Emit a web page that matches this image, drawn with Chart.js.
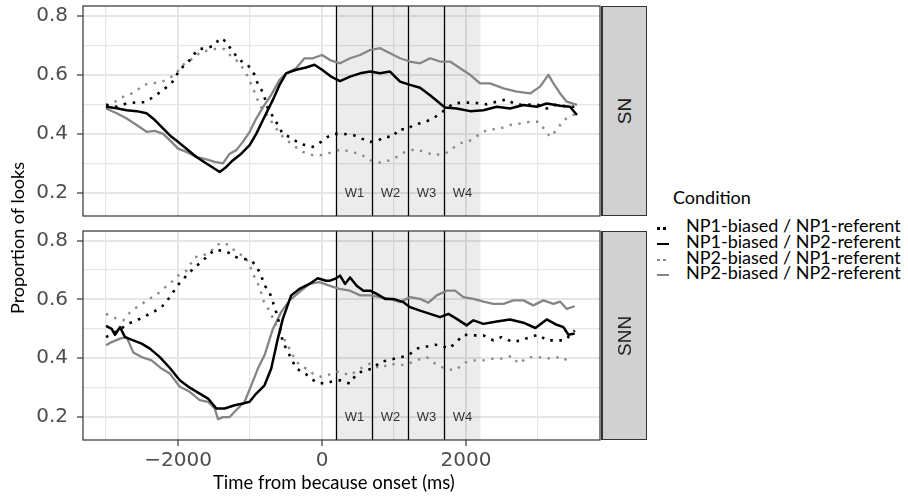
<!DOCTYPE html>
<html>
<head>
<meta charset="utf-8">
<script src="https://cdn.jsdelivr.net/npm/chart.js"></script>
<style>
  body { margin: 0; background: #fff; width: 908px; height: 496px; overflow: hidden; position: relative; font-family: Lato, sans-serif; }
  canvas { position: absolute; left: 0; }
  .strip { position: absolute; left: 601px; width: 46px; box-sizing: border-box; background: #d1d1d1; border: 1px solid #333; border-left-width: 2px; }
  .strip span { position: absolute; left: 50%; top: 50%; transform: translate(-50%, -50%) rotate(-90deg); font: 19px "Liberation Sans", sans-serif; color: #1a1a1a; white-space: nowrap; }
  .txt { position: absolute; white-space: nowrap; color: #000; font-size: 18px; line-height: 16px; }
  .key { position: absolute; }
</style>
</head>
<body>
<canvas id="snChart" width="602" height="217" style="top:0"></canvas>
<canvas id="snnChart" width="602" height="271" style="top:225px"></canvas>
<div class="strip" style="top:6px;height:210px"><span id="strip0"></span></div>
<div class="strip" style="top:231px;height:209px"><span id="strip1"></span></div>
<div class="txt" style="left:17px;top:238px;transform:translate(-50%,-50%) rotate(-90deg)">Proportion of looks</div>
<div class="txt" style="left:213px;top:474px;font-size:18.5px">Time from because onset (ms)</div>
<div id="legend"></div>
<script>
// facets and conditions
const panels = ['SN', 'SNN'];
const conditions = [
  'NP1-biased / NP1-referent',
  'NP1-biased / NP2-referent',
  'NP2-biased / NP1-referent',
  'NP2-biased / NP2-referent'
];

// axis ticks
const xMajor = [-2000, 0, 2000];
const xMinor = [-3000, -1000, 1000, 3000];
const yMajor = [0.2, 0.4, 0.6, 0.8];
const yMinor = [0.3, 0.5, 0.7];

// analysis windows
const windowEdges = [200, 700, 1200, 1700, 2200];
const windowLabels = ['W1', 'W2', 'W3', 'W4'];
const windowLabelLevel = 0.2;

// SN panel: [time, proportion]
const snNP1NP1 = [[-3000,.498],[-2852,.492],[-2714,.503],[-2575,.507],[-2460,.507],[-2299,.532],[-2091,.571],[-1976,.617],[-1837,.65],[-1722,.687],[-1606,.69],[-1491,.70],[-1422,.724],[-1330,.713],[-1260,.684],[-1145,.65],[-1030,.633],[-937,.60],[-891,.568],[-822,.541],[-752,.486],[-660,.45],[-545,.40],[-429,.387],[-314,.367],[-129,.356],[-14,.373],[78,.39],[170,.40],[296,.40],[435,.396],[551,.384],[667,.373],[759,.375],[870,.39],[986,.39],[1060,.416],[1176,.415],[1269,.43],[1407,.439],[1523,.449],[1639,.469],[1824,.503],[1963,.506],[2102,.506],[2287,.50],[2426,.509],[2565,.517],[2681,.50],[2819,.498],[2981,.50],[3120,.486],[3259,.50],[3398,.492],[3540,.492]];
const snNP1NP2 = [[-3000,.492],[-2852,.487],[-2714,.48],[-2575,.477],[-2437,.47],[-2322,.447],[-2206,.418],[-2091,.39],[-2000,.373],[-1883,.35],[-1745,.322],[-1606,.30],[-1491,.282],[-1422,.271],[-1330,.288],[-1237,.311],[-1122,.333],[-1006,.362],[-914,.40],[-799,.458],[-683,.515],[-590,.566],[-499,.605],[-360,.617],[-222,.625],[-106,.634],[0,.617],[124,.594],[250,.579],[389,.594],[528,.605],[667,.611],[806,.605],[944,.611],[1083,.577],[1222,.566],[1361,.556],[1500,.531],[1639,.503],[1708,.489],[1870,.486],[2056,.477],[2241,.48],[2426,.492],[2611,.486],[2796,.498],[2981,.492],[3120,.503],[3306,.495],[3444,.492],[3540,.464]];
const snNP2NP1 = [[-3000,.498],[-2875,.509],[-2760,.526],[-2598,.541],[-2483,.566],[-2368,.571],[-2252,.575],[-2160,.583],[-2045,.60],[-1929,.634],[-1791,.656],[-1676,.679],[-1537,.684],[-1445,.69],[-1353,.687],[-1260,.662],[-1145,.64],[-1030,.594],[-937,.541],[-868,.498],[-730,.452],[-637,.418],[-545,.39],[-406,.362],[-268,.339],[-129,.328],[9,.328],[148,.339],[273,.348],[389,.339],[528,.333],[667,.311],[806,.303],[944,.311],[1037,.322],[1153,.339],[1292,.348],[1431,.339],[1546,.328],[1708,.333],[1843,.356],[1963,.373],[2079,.379],[2171,.396],[2287,.413],[2472,.418],[2611,.43],[2750,.435],[2889,.441],[3005,.441],[3097,.413],[3167,.39],[3259,.413],[3352,.447],[3444,.458],[3530,.469]];
const snNP2NP2 = [[-3000,.486],[-2852,.47],[-2714,.452],[-2575,.43],[-2437,.407],[-2322,.41],[-2206,.40],[-2091,.373],[-2000,.35],[-1883,.339],[-1745,.322],[-1606,.314],[-1491,.305],[-1376,.30],[-1283,.333],[-1191,.345],[-1099,.373],[-1006,.407],[-914,.452],[-799,.498],[-706,.532],[-590,.583],[-499,.605],[-360,.622],[-245,.656],[-129,.656],[0,.667],[111,.65],[250,.639],[389,.656],[528,.667],[667,.684],[806,.69],[944,.673],[1083,.656],[1222,.645],[1361,.639],[1500,.656],[1639,.645],[1778,.645],[1917,.622],[2056,.60],[2194,.571],[2333,.571],[2519,.554],[2704,.543],[2889,.537],[3028,.56],[3144,.60],[3213,.571],[3306,.537],[3398,.509],[3540,.498]];

// SNN panel: [time, proportion]
const snnNP1NP1 = [[-3000,.472],[-2875,.489],[-2760,.506],[-2668,.52],[-2575,.529],[-2460,.543],[-2345,.557],[-2229,.574],[-2114,.608],[-2000,.65],[-1883,.681],[-1768,.71],[-1676,.727],[-1583,.75],[-1491,.769],[-1399,.766],[-1307,.76],[-1191,.744],[-1076,.738],[-983,.732],[-914,.715],[-845,.681],[-799,.648],[-730,.625],[-683,.591],[-614,.54],[-545,.455],[-429,.40],[-360,.365],[-268,.354],[-175,.337],[-83,.318],[32,.314],[124,.32],[250,.325],[389,.314],[481,.348],[597,.359],[713,.365],[806,.388],[921,.393],[1014,.399],[1106,.404],[1199,.41],[1315,.433],[1431,.439],[1569,.446],[1662,.444],[1755,.433],[1847,.45],[1963,.48],[2102,.478],[2241,.478],[2380,.461],[2491,.472],[2657,.455],[2750,.461],[2889,.472],[3005,.48],[3120,.461],[3259,.461],[3375,.461],[3509,.495]];
const snnNP1NP2 = [[-3000,.51],[-2922,.50],[-2875,.48],[-2806,.506],[-2737,.472],[-2622,.461],[-2506,.45],[-2391,.433],[-2252,.404],[-2114,.367],[-1976,.325],[-1837,.30],[-1699,.28],[-1583,.263],[-1468,.229],[-1353,.229],[-1214,.24],[-1099,.246],[-1006,.252],[-914,.28],[-799,.308],[-706,.365],[-614,.467],[-545,.534],[-429,.614],[-314,.636],[-175,.653],[-60,.672],[55,.664],[111,.664],[194,.672],[250,.681],[319,.653],[389,.675],[481,.647],[574,.63],[667,.63],[759,.619],[875,.602],[991,.602],[1130,.591],[1222,.574],[1361,.562],[1500,.551],[1639,.54],[1755,.551],[1870,.534],[2009,.512],[2102,.529],[2241,.517],[2426,.525],[2611,.532],[2796,.521],[2963,.503],[3120,.532],[3259,.514],[3352,.506],[3421,.48],[3509,.484]];
const snnNP2NP1 = [[-3000,.551],[-2875,.537],[-2760,.529],[-2645,.563],[-2529,.58],[-2414,.60],[-2299,.616],[-2206,.636],[-2091,.659],[-2000,.681],[-1883,.698],[-1768,.744],[-1676,.747],[-1560,.76],[-1468,.785],[-1376,.794],[-1283,.783],[-1168,.755],[-1076,.749],[-1006,.715],[-937,.676],[-868,.642],[-799,.585],[-730,.563],[-660,.523],[-591,.489],[-499,.455],[-406,.41],[-314,.376],[-222,.365],[-129,.348],[-14,.337],[78,.342],[194,.354],[250,.354],[389,.342],[528,.365],[667,.382],[806,.365],[944,.382],[1083,.376],[1199,.382],[1315,.393],[1454,.404],[1569,.382],[1708,.365],[1847,.359],[1986,.385],[2125,.393],[2241,.393],[2380,.399],[2519,.399],[2634,.408],[2727,.382],[2866,.404],[3005,.404],[3120,.399],[3259,.404],[3352,.393],[3444,.404]];
const snnNP2NP2 = [[-3000,.444],[-2922,.455],[-2806,.467],[-2714,.472],[-2622,.42],[-2506,.404],[-2368,.393],[-2229,.365],[-2114,.348],[-1976,.303],[-1837,.286],[-1699,.258],[-1583,.252],[-1491,.229],[-1445,.193],[-1376,.20],[-1283,.20],[-1191,.224],[-1076,.252],[-983,.308],[-891,.365],[-799,.41],[-683,.50],[-568,.557],[-452,.597],[-314,.625],[-175,.653],[-37,.659],[101,.647],[240,.636],[389,.63],[528,.614],[667,.614],[806,.608],[944,.602],[1083,.591],[1222,.608],[1361,.602],[1477,.589],[1593,.614],[1731,.63],[1847,.63],[1963,.608],[2102,.602],[2241,.593],[2380,.585],[2519,.585],[2657,.597],[2796,.597],[2935,.58],[3074,.597],[3213,.585],[3306,.593],[3398,.568],[3509,.577]];

const panelSeries = [
  [snNP1NP1, snNP1NP2, snNP2NP1, snNP2NP2],
  [snnNP1NP1, snnNP1NP2, snnNP2NP1, snnNP2NP2]
];

// line look per condition
const lineStyles = [
  { color: '#000000', width: 2.6, dash: [2.6, 6.5] },
  { color: '#000000', width: 2.5, dash: [] },
  { color: '#8a8a8a', width: 2.4, dash: [2.4, 6.5] },
  { color: '#858585', width: 2.3, dash: [] }
];

const X_MIN = -3320, X_MAX = 3860;
const Y_MIN = 0.122, Y_MAX = 0.833;
const GRID = '#e6e6e6';
const TICK_TEXT = '#4d4d4d';

const isMajor = (list, v) => list.some(m => Math.abs(m - v) < 1e-9);
const fmtX = v => (v < 0 ? '\u2212' + Math.abs(v) : String(v));

Chart.defaults.font.family = '"DejaVu Sans", sans-serif';

const panelDeco = {
  id: 'panelDeco',
  beforeDatasetsDraw(chart) {
    const { ctx, chartArea: a, scales: { x, y } } = chart;
    ctx.save();
    const x0 = x.getPixelForValue(windowEdges[0]);
    const x1 = x.getPixelForValue(windowEdges[windowEdges.length - 1]);
    ctx.fillStyle = 'rgba(0,0,0,0.075)';
    ctx.fillRect(x0, a.top, x1 - x0, a.bottom - a.top);

    ctx.strokeStyle = '#000';
    ctx.lineWidth = 1.3;
    windowEdges.slice(0, -1).forEach(t => {
      const px = Math.round(x.getPixelForValue(t)) + 0.5;
      ctx.beginPath();
      ctx.moveTo(px, a.top);
      ctx.lineTo(px, a.bottom);
      ctx.stroke();
    });

    ctx.fillStyle = '#333';
    ctx.font = '13px "Liberation Sans", sans-serif';
    ctx.textAlign = 'center';
    ctx.textBaseline = 'middle';
    windowLabels.forEach((lab, i) => {
      const mid = (windowEdges[i] + windowEdges[i + 1]) / 2;
      ctx.fillText(lab, x.getPixelForValue(mid), y.getPixelForValue(windowLabelLevel));
    });
    ctx.restore();
  },
  afterDatasetsDraw(chart) {
    const { ctx, chartArea: a } = chart;
    ctx.save();
    ctx.strokeStyle = '#333';
    ctx.lineWidth = 1.2;
    ctx.strokeRect(a.left, a.top, a.right - a.left, a.bottom - a.top);
    ctx.restore();
  }
};

function makePanel(canvasId, series, withXLabels, bottomSpace) {
  const datasets = series.map((pts, i) => ({
    label: conditions[i],
    data: pts.map(p => ({ x: p[0], y: p[1] })),
    borderColor: lineStyles[i].color,
    borderWidth: lineStyles[i].width,
    borderDash: lineStyles[i].dash,
    borderCapStyle: 'butt',
    borderJoinStyle: 'round',
    pointRadius: 0,
    fill: false,
    tension: 0
  }));

  return new Chart(document.getElementById(canvasId), {
    type: 'line',
    data: { datasets },
    options: {
      responsive: false,
      animation: false,
      events: [],
      layout: { padding: { top: 6, right: 2, left: 0, bottom: withXLabels ? 0 : 1 } },
      plugins: { legend: { display: false }, tooltip: { enabled: false } },
      scales: {
        x: {
          type: 'linear',
          min: X_MIN,
          max: X_MAX,
          afterBuildTicks: s => {
            s.ticks = xMinor.concat(xMajor).sort((a, b) => a - b).map(v => ({ value: v }));
          },
          afterFit: s => {
            s.height = bottomSpace;
            s.paddingLeft = 0;
            s.paddingRight = 0;
          },
          border: { display: false },
          grid: {
            color: GRID,
            lineWidth: c => (c.tick && isMajor(xMajor, c.tick.value) ? 2 : 1.2),
            drawTicks: withXLabels,
            tickLength: 6,
            tickColor: c => (c.tick && isMajor(xMajor, c.tick.value) ? '#333' : 'rgba(0,0,0,0)'),
            tickWidth: 1.2
          },
          ticks: {
            display: withXLabels,
            autoSkip: false,
            maxRotation: 0,
            padding: 3,
            color: TICK_TEXT,
            font: { size: 20 },
            callback: v => (isMajor(xMajor, v) ? fmtX(v) : '')
          }
        },
        y: {
          min: Y_MIN,
          max: Y_MAX,
          afterBuildTicks: s => {
            s.ticks = yMajor.concat(yMinor).sort((a, b) => a - b).map(v => ({ value: v }));
          },
          afterFit: s => {
            s.width = 83;
            s.paddingTop = 0;
            s.paddingBottom = 0;
          },
          border: { display: false },
          grid: {
            color: GRID,
            lineWidth: c => (c.tick && isMajor(yMajor, c.tick.value) ? 2 : 1.2),
            tickLength: 6,
            tickColor: c => (c.tick && isMajor(yMajor, c.tick.value) ? '#333' : 'rgba(0,0,0,0)'),
            tickWidth: 1.2
          },
          ticks: {
            autoSkip: false,
            padding: 9,
            color: TICK_TEXT,
            font: { size: 20 },
            callback: v => (isMajor(yMajor, v) ? v.toFixed(1) : '')
          }
        }
      }
    },
    plugins: [panelDeco]
  });
}

makePanel('snChart', panelSeries[0], false, 0);
makePanel('snnChart', panelSeries[1], true, 56);

document.getElementById('strip0').textContent = panels[0];
document.getElementById('strip1').textContent = panels[1];

// legend
const legend = document.getElementById('legend');
const title = document.createElement('div');
title.className = 'txt';
title.style.left = '673px';
title.style.top = '189px';
title.textContent = 'Condition';
legend.appendChild(title);

const rowTops = [217, 233, 248.5, 264];
conditions.forEach((name, i) => {
  const row = document.createElement('div');
  row.className = 'txt';
  row.style.left = '686px';
  row.style.top = rowTops[i] + 'px';
  row.textContent = name;
  legend.appendChild(row);

  const cy = rowTops[i] + 11;
  const st = lineStyles[i];
  if (st.dash.length) {
    [657, 663].forEach(kx => {
      const d = document.createElement('div');
      d.className = 'key';
      d.style.cssText = `left:${kx}px;top:${cy - 1}px;width:2.5px;height:2.5px;background:${st.color}`;
      legend.appendChild(d);
    });
  } else {
    const d = document.createElement('div');
    d.className = 'key';
    d.style.cssText = `left:657px;top:${cy - 1}px;width:12px;height:2px;background:${st.color}`;
    legend.appendChild(d);
  }
});
</script>
</body>
</html>
